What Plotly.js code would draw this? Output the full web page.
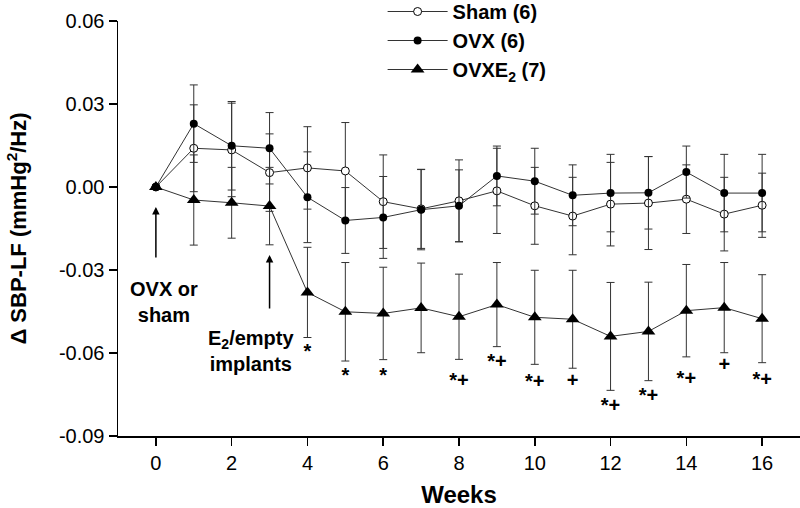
<!DOCTYPE html>
<html>
<head>
<meta charset="utf-8">
<script src="https://cdn.plot.ly/plotly-3.0.1.min.js"></script>
<style>html,body{margin:0;padding:0;background:#fff}#chart{width:800px;height:508px}</style>
</head>
<body>
<div id="chart"></div>
<script>
// ---- data ----
const weeks = [0,1,2,3,4,5,6,7,8,9,10,11,12,13,14,15,16];

const seriesNames = ['Sham (6)', 'OVX (6)', 'OVXE<sub>2</sub> (7)'];

const sham    = [0, 0.0140, 0.0134, 0.0052, 0.0069, 0.0058, -0.0053, -0.0079, -0.0050, -0.0014, -0.0068, -0.0105, -0.0062, -0.0058, -0.0044, -0.0098, -0.0066];
const shamErr = [0, 0.0157, 0.0169, 0.0140, 0.0149, 0.0175, 0.0169, 0.0143, 0.0148, 0.0154, 0.0139, 0.0140, 0.0151, 0.0168, 0.0124, 0.0133, 0.0116];

const ovx     = [0, 0.0229, 0.0149, 0.0140, -0.0037, -0.0121, -0.0110, -0.0082, -0.0068, 0.0040, 0.0021, -0.0030, -0.0022, -0.0021, 0.0054, -0.0022, -0.0022];
const ovxErr  = [0, 0.0140, 0.0160, 0.0129, 0.0164, 0.0119, 0.0148, 0.0145, 0.0130, 0.0108, 0.0119, 0.0110, 0.0140, 0.0131, 0.0094, 0.0140, 0.0140];

const ovxe2    = [0, -0.0047, -0.0057, -0.0069, -0.0381, -0.0451, -0.0457, -0.0437, -0.0469, -0.0425, -0.0471, -0.0478, -0.0540, -0.0522, -0.0447, -0.0436, -0.0476];
const ovxe2Err = [0, 0.0163, 0.0128, 0.0140, 0.0163, 0.0178, 0.0167, 0.0162, 0.0154, 0.0152, 0.0170, 0.0177, 0.0195, 0.0178, 0.0167, 0.0163, 0.0159];

// significance marks under the OVXE2 series and where they sit
const sigWeeks  = [4, 5, 6, 8, 9, 10, 11, 12, 13, 14, 15, 16];
const sigLabels = ['*', '*', '*', '*+', '*+', '*+', '+', '*+', '*+', '*+', '+', '*+'];
const sigY      = [-0.0600, -0.0687, -0.0687, -0.0704, -0.0637, -0.0707, -0.0704, -0.0794, -0.0758, -0.0698, -0.0647, -0.0700];

const xTickVals = [0,2,4,6,8,10,12,14,16];
const xTickText = ['0','2','4','6','8','10','12','14','16'];
const yTickVals = [-0.09,-0.06,-0.03,0,0.03,0.06];
const yTickText = ['-0.09','-0.06','-0.03','0.00','0.03','0.06'];

// ---- chart ----
const FONT = 'Liberation Sans, Arial, Helvetica, sans-serif';
const lineCol = '#333333';
const errStyle = (arr) => ({type:'data', array: arr, visible:true, color:'#333333', thickness:1, width:4});

const traces = [
  {
    x: weeks, y: sham, name: seriesNames[0], type:'scatter', mode:'lines+markers',
    line:{color:lineCol, width:1},
    marker:{symbol:'circle', size:8, color:'#ffffff', line:{color:'#000000', width:1}},
    error_y: errStyle(shamErr)
  },
  {
    x: weeks, y: ovx, name: seriesNames[1], type:'scatter', mode:'lines+markers',
    line:{color:lineCol, width:1},
    marker:{symbol:'circle', size:8, color:'#000000'},
    error_y: errStyle(ovxErr)
  },
  {
    x: weeks, y: ovxe2, name: seriesNames[2], type:'scatter', mode:'lines+markers',
    line:{color:lineCol, width:1},
    marker:{symbol:'triangle-up', size:12, color:'#000000'},
    error_y: errStyle(ovxe2Err)
  },
  {
    x: sigWeeks, y: sigY, text: sigLabels, type:'scatter', mode:'text',
    textposition:'middle center', showlegend:false, hoverinfo:'skip',
    textfont:{family:FONT, size:20, color:'#000000', weight:'bold'}
  }
];

const layout = {
  width: 800, height: 508,
  margin: {l:118, r:0, t:21, b:72, pad:0, autoexpand:false},
  paper_bgcolor:'#ffffff', plot_bgcolor:'#ffffff',
  font: {family: FONT, color:'#000000'},
  showlegend: true,
  legend: {
    x: 0.388, xanchor:'left', y: 0.953, yanchor:'middle',
    bgcolor:'rgba(0,0,0,0)', borderwidth:0,
    font:{family:FONT, size:20, color:'#000000', weight:'bold'},
    itemwidth: 60, traceorder:'normal'
  },
  xaxis: {
    range:[-1, 17], showgrid:false, zeroline:false,
    showline:true, linecolor:'#000000', linewidth:1.5,
    ticks:'outside', ticklen:8, tickwidth:1.5, tickcolor:'#000000',
    tickvals: xTickVals, ticktext: xTickText,
    tickfont:{family:FONT, size:20, color:'#000000'},
    title:{text:'Weeks', font:{family:FONT, size:24, color:'#000000', weight:'bold'}, standoff:18}
  },
  yaxis: {
    range:[-0.09, 0.06], showgrid:false, zeroline:false,
    showline:true, linecolor:'#000000', linewidth:1.5,
    ticks:'outside', ticklen:8, tickwidth:1.5, tickcolor:'#000000',
    tickvals: yTickVals, ticktext: yTickText,
    tickfont:{family:FONT, size:20, color:'#000000'},
    title:{text:'Δ SBP-LF (mmHg<sup>2</sup>/Hz)', font:{family:FONT, size:22, color:'#000000', weight:'bold'}, standoff:26}
  },
  annotations: [
    {x:0, y:-0.0072, xref:'x', yref:'y', ax:0, ay:-0.026, axref:'x', ayref:'y',
     showarrow:true, arrowhead:2, arrowsize:1, arrowwidth:1.5, arrowcolor:'#000000', text:''},
    {x:3, y:-0.0246, xref:'x', yref:'y', ax:3, ay:-0.0445, axref:'x', ayref:'y',
     showarrow:true, arrowhead:2, arrowsize:1, arrowwidth:1.5, arrowcolor:'#000000', text:''},
    {x:0.22, y:-0.0415, xref:'x', yref:'y', showarrow:false, text:'OVX or<br>sham',
     font:{family:FONT, size:20, color:'#000000', weight:'bold'}, align:'center'},
    {x:2.5, y:-0.0591, xref:'x', yref:'y', showarrow:false, text:'E<sub>2</sub>/empty<br>implants',
     font:{family:FONT, size:20, color:'#000000', weight:'bold'}, align:'center'}
  ]
};

Plotly.newPlot('chart', traces, layout, {displayModeBar:false, staticPlot:true});
</script>
</body>
</html>
